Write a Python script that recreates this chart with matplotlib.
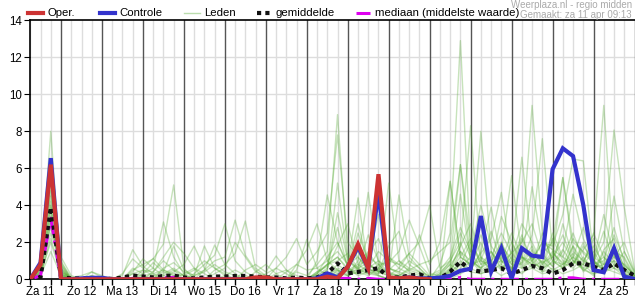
import numpy as np
import matplotlib
matplotlib.use("Agg")
import matplotlib.pyplot as plt

plt.rcParams['font.family'] = ['Liberation Sans', 'DejaVu Sans']

# 6-hourly steps, starting Za 11 06:00
day_labels = ['Za 11', 'Zo 12', 'Ma 13', 'Di 14', 'Wo 15', 'Do 16', 'Vr 17', 'Za 18',
              'Zo 19', 'Ma 20', 'Di 21', 'Wo 22', 'Do 23', 'Vr 24', 'Za 25']

oper = [0, 0.8, 6.2, 0, 0, 0, 0, 0, 0, 0,
        0, 0, 0, 0, 0, 0, 0, 0, 0, 0,
        0, 0, 0.1, 0.1, 0, 0, 0, 0, 0, 0.14,
        0.05, 0.68, 1.9, 0.6, 5.68, 0.1, 0.05, 0.1, 0.03, 0]

controle = [0, 0.9, 6.55, 0, 0, 0.05, 0.08, 0.08, 0, 0,
            0, 0, 0, 0, 0, 0, 0, 0, 0, 0,
            0, 0, 0, 0, 0, 0, 0, 0, 0.05, 0.32,
            0.1, 0.68, 1.76, 0.6, 4.7, 0.05, 0.05, 0.1, 0.05, 0.05,
            0.09, 0.19, 0.46, 0.57, 3.42, 0.41, 1.68, 0.05, 1.68, 1.28,
            1.2, 5.95, 7.08, 6.66, 4.02, 0.5, 0.38, 1.68, 0.14, 0.02]

gemiddelde = [0, 0.1, 3.9, 0.1, 0.05, 0.05, 0.05, 0.05, 0.02, 0.1,
              0.2, 0.15, 0.1, 0.18, 0.2, 0.1, 0.05, 0.1, 0.15, 0.15,
              0.18, 0.18, 0.15, 0.1, 0.1, 0.05, 0.1, 0.05, 0.1, 0.32,
              0.86, 0.32, 0.4, 0.5, 0.6, 0.1, 0.1, 0.2, 0.27, 0.05,
              0.05, 0.41, 0.95, 0.5, 0.42, 0.5, 0.6, 0.3, 0.5, 0.72,
              0.6, 0.3, 0.5, 0.86, 0.86, 0.68, 0.5, 0.86, 0.5, 0.2]

mediaan = [0, 0.2, 3.3, 0, 0, 0, 0, 0, 0, 0,
           0.05, 0, 0, 0.08, 0.1, 0, 0, 0, 0, 0,
           0, 0, 0, 0, 0, 0, 0, 0, 0, 0,
           0.05, 0.05, 0, 0.05, 0, 0, 0, 0, 0, 0,
           0, 0, 0.1, 0, 0, 0, 0, 0, 0, 0,
           0, 0, 0.08, 0.08, 0, 0, 0, 0, 0, 0]

leden = [
    [0, 0.6, 8.0, 0.3, 0, 0, 0, 0, 0, 0,
     0.3, 0.5, 0.2, 0, 0, 0, 0, 0, 0, 0,
     0, 0, 0, 0, 0, 0, 0.4, 0.2, 0.8, 1.5,
     8.9, 1.2, 0.5, 0.3, 0.8, 0.2, 0, 0, 0, 0,
     0, 0.5, 1.2, 0.8, 2.0, 0.6, 1.5, 0.8, 2.2, 1.0,
     0.5, 1.2, 2.4, 1.0, 0.6, 0.2, 1.5, 0.8, 0.3, 0],
    [0, 1.0, 6.5, 1.2, 0.2, 0, 0, 0, 0, 0,
     0.5, 0.8, 1.1, 1.9, 5.1, 0.6, 0, 0, 0, 0,
     0, 0, 0, 0, 0, 0, 0, 0, 0.2, 0.6,
     1.8, 3.0, 0.8, 1.5, 0.6, 0.4, 0.2, 0.5, 0.3, 0,
     0.3, 1.0, 6.2, 2.0, 0.8, 1.5, 0.5, 1.2, 3.0, 2.0,
     0.8, 1.5, 0.6, 1.8, 0.9, 2.2, 0.4, 1.6, 0.5, 0.1],
    [0, 0.5, 5.5, 0.6, 0, 0, 0.4, 0.1, 0, 0,
     0, 0.3, 0.6, 3.1, 1.2, 0.3, 0, 0, 0, 0.2,
     0.5, 0.2, 0, 0, 0, 0, 0, 0, 0, 0.3,
     0.5, 0.2, 1.0, 4.7, 0.8, 0.3, 0, 0, 0, 0,
     0.8, 2.5, 12.9, 1.5, 0.6, 1.0, 2.0, 0.5, 1.2, 0.8,
     2.5, 1.0, 0.6, 1.8, 0.4, 1.0, 2.6, 0.9, 0.3, 0],
    [0, 0.8, 4.5, 1.0, 0, 0, 0, 0, 0, 0.2,
     1.6, 0.7, 0.3, 0.5, 0.2, 0, 0.3, 0.8, 1.3, 3.0,
     1.0, 0.4, 0.1, 0, 0, 0, 0, 0, 0.3, 1.2,
     2.0, 0.7, 4.4, 0.6, 1.0, 0.3, 0.2, 0.6, 0.4, 0,
     0.2, 0.6, 1.8, 8.3, 1.0, 0.8, 1.3, 0.6, 1.6, 1.1,
     1.4, 0.7, 3.0, 1.2, 0.5, 0.8, 1.0, 2.8, 0.9, 0.2],
    [0, 0.3, 3.9, 0.4, 0.1, 0.2, 0.4, 0.2, 0, 0,
     0.3, 0.2, 0, 0.6, 0.9, 0.4, 0.2, 0.5, 1.0, 1.2,
     3.2, 1.3, 0.5, 0, 0, 0, 0, 0, 0, 0.5,
     3.6, 1.0, 0.5, 1.4, 2.2, 0.6, 0.4, 1.0, 0.6, 0.1,
     0.4, 0.9, 2.5, 1.2, 8.0, 1.5, 0.8, 2.0, 0.7, 1.3,
     0.6, 2.2, 1.0, 0.8, 1.6, 2.4, 9.4, 1.2, 0.6, 0.2],
    [0, 0.4, 3.4, 0.2, 0, 0, 0, 0, 0, 0,
     0, 0, 0.4, 1.0, 0.5, 0, 0, 0, 0.5, 0.8,
     1.4, 3.15, 0.6, 0.2, 0, 0, 0, 0, 0.4, 0.8,
     1.2, 0.5, 0.8, 0.4, 0.3, 5.2, 1.0, 0.4, 0.2, 0,
     0, 0.3, 1.0, 0.5, 1.5, 3.9, 1.0, 0.6, 2.0, 9.4,
     2.5, 1.0, 0.8, 2.2, 1.4, 0.9, 0.5, 1.8, 0.7, 0.3],
    [0, 0.2, 3.0, 0.5, 0, 0, 0, 0, 0, 0,
     0.4, 1.1, 0.6, 0.2, 0, 0, 0, 0, 0, 0,
     0, 0, 0, 0, 0.6, 1.2, 2.2, 0.8, 1.5, 2.5,
     7.8, 2.0, 1.2, 0.5, 0.4, 0.2, 4.56, 1.2, 0.6, 0,
     0, 0.4, 0.8, 2.0, 1.0, 0.6, 1.8, 1.1, 0.9, 2.4,
     7.6, 1.5, 0.8, 1.2, 2.8, 1.0, 0.6, 1.2, 2.0, 0.4],
    [0, 0.1, 2.5, 0.8, 0, 0, 0, 0, 0, 0,
     0, 0, 0.2, 0.4, 1.8, 0.5, 0.2, 1.8, 0.6, 0.2,
     0, 0.5, 0.8, 0.4, 1.26, 0.5, 0, 0, 0, 0.2,
     0.6, 0.4, 0.7, 1.2, 0.8, 0.9, 1.5, 3.2, 1.8, 0.3,
     0.2, 0.8, 1.5, 1.0, 0.6, 1.2, 2.5, 1.4, 6.6, 1.5,
     0.9, 1.2, 2.0, 1.0, 0.8, 1.5, 0.6, 2.4, 1.1, 0.1],
    [0, 0.3, 2.0, 0.3, 0, 0, 0, 0, 0, 0,
     0, 0, 0, 0.3, 0.6, 0.2, 0, 0, 0, 0,
     0, 0, 0, 0, 0, 0, 0, 0, 0.2, 0.5,
     5.2, 1.0, 0.6, 2.4, 1.0, 0.6, 0.4, 0.2, 0, 0,
     0, 5.3, 1.2, 2.2, 0.8, 1.0, 0.5, 1.5, 0.6, 1.0,
     2.0, 1.8, 3.5, 6.5, 6.4, 1.2, 0.8, 4.5, 1.5, 0.4],
    [0, 0.2, 1.5, 0.2, 0.1, 0, 0.2, 0, 0, 0,
     0, 0.2, 0.3, 0, 0, 0, 0.2, 0.4, 0.8, 0.4,
     0.2, 0, 0, 0, 0, 0.4, 0.8, 0.5, 0.6, 1.0,
     1.5, 0.8, 1.2, 0.6, 1.5, 1.0, 0.8, 1.4, 2.0, 4.0,
     0.6, 1.0, 2.0, 0.6, 1.4, 2.2, 4.7, 1.0, 0.8, 1.6,
     0.8, 2.5, 1.2, 0.8, 1.8, 1.0, 2.0, 8.07, 3.9, 0.5],
    [0, 0.6, 4.2, 0.4, 0, 0, 0, 0, 0, 0,
     0.6, 0.3, 0.9, 0.4, 0.2, 0, 0, 0, 0.3, 0.6,
     2.0, 1.2, 0.4, 0.2, 0, 0, 0, 0, 0.3, 0.8,
     1.0, 1.4, 0.6, 0.9, 0.4, 1.2, 0.8, 0.5, 0.8, 1.0,
     1.5, 2.0, 6.2, 1.0, 2.4, 1.0, 1.5, 5.6, 1.2, 0.8,
     1.4, 2.0, 5.5, 1.5, 1.0, 0.8, 1.2, 0.6, 1.5, 0.3],
    [0, 0.7, 5.0, 0.7, 0, 0, 0.2, 0, 0, 0,
     0, 0.5, 0.4, 1.2, 2.0, 1.4, 0.6, 0, 0, 0,
     0, 0, 0, 0.3, 0.6, 0.3, 0, 0, 1.0, 4.56,
     2.0, 0.8, 1.5, 0.6, 0.3, 0.5, 1.0, 0.6, 2.4, 0.8,
     2.0, 5.3, 1.2, 0.8, 1.0, 2.6, 0.9, 1.4, 2.0, 3.0,
     1.2, 0.7, 1.5, 4.6, 2.2, 1.0, 0.5, 1.0, 0.8, 0.2],
    [0, 0.4, 3.6, 0.3, 0, 0, 0, 0, 0, 0,
     0, 0, 0, 0, 0, 0, 0, 0.5, 1.85, 0.8,
     0.3, 0, 0, 0, 0, 0, 0, 0, 0, 0.2,
     0.8, 0.4, 0.3, 0.6, 0.2, 0, 0, 0, 0, 0,
     0, 0.2, 0.6, 1.2, 0.5, 0.8, 1.0, 0.4, 1.2, 0.6,
     1.0, 0.5, 0.8, 1.4, 0.6, 1.0, 0.4, 0.8, 0.5, 0.1],
    [0, 0.9, 2.8, 0.9, 0.1, 0, 0, 0, 0, 0.3,
     1.1, 0.6, 1.13, 0.5, 0.3, 0.2, 0.5, 1.0, 0.6, 0.3,
     0, 0, 0, 0, 0, 0, 0.8, 1.6, 3.0, 1.0,
     0.5, 0.2, 0.4, 0.2, 0.6, 1.2, 0.6, 1.4, 0.8, 0.2,
     0, 0.4, 1.5, 0.6, 1.2, 0.4, 2.0, 0.8, 0.6, 1.2,
     0.4, 1.0, 0.6, 1.2, 0.8, 2.5, 1.2, 0.6, 0.4, 0],
    [0, 0.5, 4.8, 0.5, 0, 0, 0, 0, 0, 0,
     0, 0, 0, 0, 0.4, 0.8, 1.8, 0.6, 0, 0,
     0, 0, 0.4, 0.8, 0.3, 0, 0.5, 2.16, 0.6, 0.2,
     0.4, 0.6, 0.3, 0.8, 0.4, 0.2, 0.6, 0.3, 0, 0,
     0.3, 0.8, 0.4, 1.0, 0.6, 1.5, 0.6, 1.0, 2.4, 0.9,
     0.6, 1.4, 0.9, 0.6, 1.2, 0.4, 1.6, 2.2, 0.6, 0.1],
    [0, 0.3, 3.2, 0.2, 0, 0, 0, 0, 0, 0,
     0, 0, 0, 0, 0, 0, 0, 0, 0, 0,
     0, 0, 0, 0, 0, 0, 0, 0, 0, 0,
     0.3, 0.6, 0.2, 0.4, 0.2, 0, 0, 0, 0, 0,
     0, 0.2, 0.8, 0.4, 0.3, 0.6, 0.2, 0.5, 0.3, 0.8,
     0.4, 0.6, 0.3, 0.5, 0.8, 0.3, 0.6, 0.4, 0.2, 0],
    [0, 0.6, 6.0, 0.6, 0, 0, 0, 0, 0, 0,
     0, 0, 0, 0, 0, 0.3, 0.6, 0.3, 0, 0,
     0, 0, 0, 0, 0, 0, 0, 0, 0, 0,
     0.5, 0.3, 2.5, 1.0, 3.5, 0.6, 0.3, 0, 0, 0,
     0, 0.5, 1.8, 3.0, 1.2, 0.8, 3.4, 2.0, 1.0, 5.0,
     1.8, 1.2, 5.5, 2.0, 1.5, 1.0, 3.5, 1.2, 0.8, 0.2],
    [0, 0.2, 2.2, 0.4, 0, 0, 0, 0, 0, 0,
     0, 0, 0, 0.2, 0.5, 0.2, 0, 0, 0, 0,
     0, 0, 0, 0, 0.3, 0.5, 0.2, 0, 0.4, 0.7,
     2.8, 0.6, 0.4, 0.8, 0.5, 0.3, 0.2, 0, 0, 0,
     0, 0.6, 4.6, 1.0, 0.4, 0.7, 1.2, 0.5, 0.9, 1.8,
     0.6, 0.9, 1.6, 0.8, 2.0, 0.6, 0.8, 1.0, 0.3, 0],
    [0, 0.4, 4.0, 0.2, 0, 0, 0, 0, 0, 0,
     0, 0, 0, 0, 0, 0, 0, 0, 0, 0,
     0, 0, 0, 0, 0, 0, 0, 0, 0, 0.1,
     0.3, 0.2, 0.6, 0.3, 0.2, 0, 0, 0, 0, 0,
     0, 0, 0.3, 0.6, 0.3, 0.5, 0.8, 0.3, 0.4, 0.6,
     0.3, 0.4, 0.6, 1.0, 0.5, 0.3, 0.4, 0.6, 0.2, 0],
    [0, 0.8, 5.8, 0.8, 0, 0, 0, 0, 0, 0,
     0, 0, 0, 0, 0, 0, 0, 0, 0, 0,
     0, 0, 0, 0, 0, 0, 0, 0, 0.3, 0.8,
     1.2, 0.6, 3.0, 0.8, 0.4, 1.8, 2.6, 0.8, 0.4, 0.2,
     0.5, 1.2, 2.8, 1.5, 4.0, 1.8, 1.0, 2.5, 1.2, 1.0,
     2.0, 1.6, 1.2, 2.5, 1.0, 1.8, 0.8, 1.5, 1.2, 0.2],
]

n = len(controle)
x = np.arange(n)

fig = plt.figure(figsize=(6.35, 3.0), dpi=100)
ax = fig.add_axes([30.3 / 635, 1 - 279.3 / 300, (634.5 - 30.3) / 635, (279.3 - 20.3) / 300])

# grid: light every 6h, dark at midnight
for i in range(n):
    if i % 4 == 3:
        ax.axvline(i, color='#555555', lw=1.0, zorder=1)
    else:
        ax.axvline(i, color='#dddddd', lw=1.0, zorder=0)
for yv in range(2, 14, 2):
    ax.axhline(yv, color='#dddddd', lw=1.0, zorder=0)

for m in leden:
    ax.plot(x, m, color='#55aa33', lw=1.0, alpha=0.33, zorder=2)

ax.plot(x, mediaan, color='#dd00ee', lw=2.2, dashes=(6, 2, 1, 2), zorder=3)
ax.plot(x, gemiddelde, color='#111111', lw=3, dashes=(1, 1), zorder=4)
ax.plot(x, controle, color='#3333cc', lw=3, zorder=5, solid_joinstyle='miter')
ax.plot(np.arange(len(oper)), oper, color='#cc3333', lw=3, zorder=6, solid_joinstyle='miter')

ax.set_xlim(0, n - 1)
ax.set_ylim(0, 14)
ax.set_yticks(range(0, 15, 2))
ax.set_xticks(x, minor=True)
ax.set_xticks([1 + 4 * k for k in range(len(day_labels))])
ax.set_xticklabels(day_labels)
ax.tick_params(axis='x', which='major', length=0, labelsize=8.3, pad=5)
ax.tick_params(axis='x', which='minor', length=4, width=1, color='black')
ax.tick_params(axis='y', length=4, labelsize=8.3, pad=2)
for s in ['left', 'top', 'bottom']:
    ax.spines[s].set_color('black')
    ax.spines[s].set_linewidth(1.2)
ax.spines['right'].set_visible(False)

# legend row on top
ly = 1 - 13 / 300
items = [
    (28, 43, 48, 'Oper.', dict(color='#cc3333', lw=3)),
    (100, 115, 119, 'Controle', dict(color='#3333cc', lw=3)),
    (184, 200, 204, 'Leden', dict(color='#55aa33', lw=1, alpha=0.4)),
    (257, 270, 276, 'gemiddelde', dict(color='#111111', lw=3, dashes=(1, 1))),
    (356, 370, 375, 'mediaan (middelste waarde)', dict(color='#dd00ee', lw=2.2, dashes=(6, 2, 1, 2))),
]
for x0, x1, tx, label, style in items:
    fig.add_artist(plt.Line2D([x0 / 635, x1 / 635], [ly, ly], transform=fig.transFigure, **style))
    fig.text(tx / 635, ly, label, fontsize=8.2, va='center', ha='left')

fig.text(632 / 635, 1 - 5 / 300, 'Weerplaza.nl - regio midden', fontsize=7.0,
         color='#aaaaaa', ha='right', va='center')
fig.text(632 / 635, 1 - 15 / 300, 'Gemaakt: za 11 apr 09:13', fontsize=7.0,
         color='#aaaaaa', ha='right', va='center')

fig.savefig('out.png', dpi=100)
